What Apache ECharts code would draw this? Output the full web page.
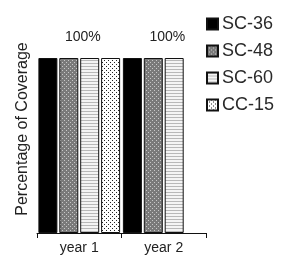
<!DOCTYPE html>
<html><head><meta charset="utf-8">
<script src="https://cdn.jsdelivr.net/npm/echarts@6/dist/echarts.min.js"></script>
<style>html,body{margin:0;padding:0;background:#fff}#c{width:291px;height:258px}</style>
</head><body><div id="c"></div>
<script>
var categories = ['year 1', 'year 2'];
var seriesNames = ['SC-36', 'SC-48', 'SC-60', 'CC-15'];
var sc36 = [100, 100];
var sc48 = [100, 100];
var sc60 = [100, 100];
var cc15 = [100, null];
var labelText = '100%';

function pat(w, h, draw) {
  var c = document.createElement('canvas');
  c.width = w; c.height = h;
  var g = c.getContext('2d');
  draw(g);
  return { image: c, repeat: 'repeat' };
}
var solidBlack = '#000';
var dotsGray = pat(4, 4, function (g) {
  g.fillStyle = '#7a7a7a'; g.fillRect(0, 0, 4, 4);
  g.fillStyle = '#c8c8c8'; g.fillRect(0, 0, 1, 1); g.fillRect(2, 2, 1, 1);
});
var hLines = pat(3, 3, function (g) {
  g.fillStyle = '#f4f4f4'; g.fillRect(0, 0, 3, 3);
  g.fillStyle = '#b8b8b8'; g.fillRect(0, 0, 3, 1);
});
var dotsWhite = pat(4, 4, function (g) {
  g.fillStyle = '#ffffff'; g.fillRect(0, 0, 4, 4);
  g.fillStyle = '#222'; g.fillRect(0, 0, 1, 1); g.fillRect(2, 2, 1, 1);
});
var fills = [solidBlack, dotsGray, hLines, dotsWhite];
var datas = [sc36, sc48, sc60, cc15];

var series = seriesNames.map(function (n, i) {
  var s = {
    name: n, type: 'bar', data: datas[i], barWidth: 19, barGap: '10%',
    itemStyle: { color: fills[i], borderColor: '#111', borderWidth: 1 },
    emphasis: { disabled: true }
  };
  if (i === 1) {
    s.label = { show: true, position: 'top', distance: 14, offset: [14, 0],
      formatter: function () { return labelText; },
      fontFamily: 'Liberation Sans', fontSize: 14, color: '#222' };
  }
  return s;
});

var chart = echarts.init(document.getElementById('c'), null, { renderer: 'canvas' });
chart.setOption({
  animation: false,
  backgroundColor: '#fff',
  grid: { left: 37, right: 85, top: 58, bottom: 25 },
  legend: {
    orient: 'vertical', left: 201, top: 10, itemWidth: 11, itemHeight: 11, itemGap: 9,
    icon: 'rect',
    textStyle: { fontFamily: 'Liberation Sans', fontSize: 18, color: '#2a2a2a', padding: [0, 0, 0, -1] },
    data: seriesNames
  },
  xAxis: {
    type: 'category', data: categories,
    axisLine: { lineStyle: { color: '#111', width: 1 } },
    axisTick: { show: true, length: 5, lineStyle: { color: '#111' } },
    axisLabel: { fontFamily: 'Liberation Sans', fontSize: 14, color: '#222', margin: 8 }
  },
  yAxis: {
    type: 'value', min: 0, max: 100,
    axisLine: { show: false }, axisTick: { show: false }, axisLabel: { show: false },
    splitLine: { show: false }
  },
  graphic: [{
    type: 'text', x: 23, y: 129, rotation: Math.PI / 2,
    style: { text: 'Percentage of Coverage', fontFamily: 'Liberation Sans', fontSize: 16,
      fill: '#222', align: 'center', verticalAlign: 'middle' }
  }],
  series: series
});
</script></body></html>
